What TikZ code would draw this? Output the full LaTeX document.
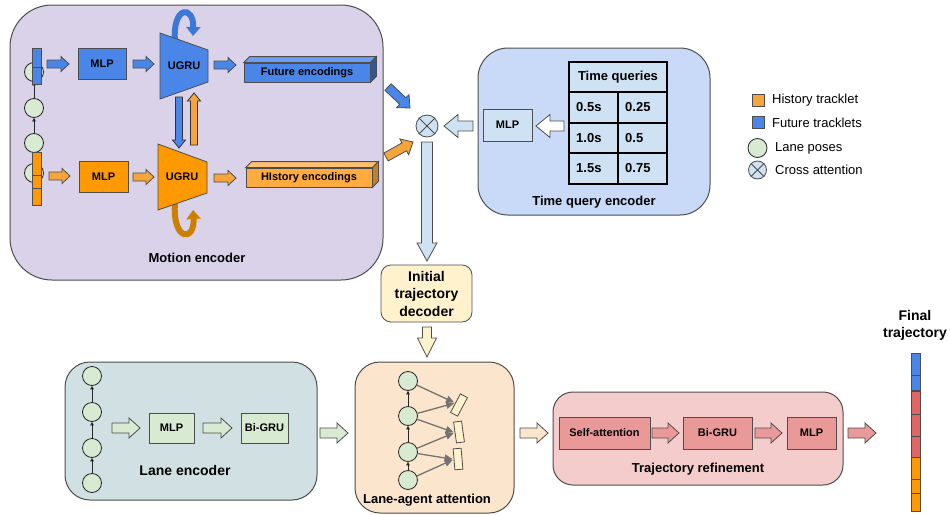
\documentclass[tikz,border=0pt]{standalone}
\usepackage{fontspec}
\setmainfont{Liberation Sans}
\usetikzlibrary{calc,arrows.meta}
\definecolor{meFill}{HTML}{D9D2E9}
\definecolor{tqFill}{HTML}{C9DAF8}
\definecolor{lblue}{HTML}{CFE2F3}
\definecolor{dcFill}{HTML}{FFF2CC}
\definecolor{laFill}{HTML}{FCE5CD}
\definecolor{leFill}{HTML}{D0E0E3}
\definecolor{lgreen}{HTML}{D9EAD3}
\definecolor{trFill}{HTML}{F4CCCC}
\definecolor{trBox}{HTML}{EA9999}
\definecolor{redF}{HTML}{E06666}
\definecolor{blueA}{HTML}{4A86E8}
\definecolor{blueD}{HTML}{3C78D8}
\definecolor{orangeA}{HTML}{FF9900}
\definecolor{orangeL}{HTML}{F6A53C}
\definecolor{orangeE}{HTML}{FFAB40}
\definecolor{orangeD}{HTML}{CC8000}
\definecolor{edge}{HTML}{4D4D4D}
% block arrow: style, start, end, shaft half width, head half width, head length
\newcommand\barrow[6]{%
  \coordinate (baA) at #2;
  \coordinate (baB) at #3;
  \coordinate (baH) at ($(baB)!#6!(baA)$);
  \filldraw[#1] ($(baA)!#4!90:(baB)$) -- ($(baH)!#4!-90:(baA)$) -- ($(baH)!#5!-90:(baA)$) -- (baB) -- ($(baH)!#5!90:(baA)$) -- ($(baH)!#4!90:(baA)$) -- ($(baA)!#4!-90:(baB)$) -- cycle;}
\begin{document}
\begin{tikzpicture}[x=1pt,y=-1pt,
  bigl/.style={font=\fontsize{13}{15}\selectfont\bfseries},
  smll/.style={font=\fontsize{11}{13}\selectfont\bfseries},
  panel/.style={draw=edge,line width=1pt},
  boxn/.style={draw=edge,line width=0.8pt,inner sep=0pt,smll},
  lanec/.style={circle,draw=black!85,fill=lgreen,minimum size=19pt,inner sep=0pt,line width=0.8pt},
  uparr/.style={-{Triangle[length=3.5pt,width=3.5pt]},line width=0.8pt,black!85},
  attarr/.style={-{Triangle[length=8pt,width=7pt]},line width=1.3pt,black!55,shorten >=1pt},
  barr/.style={draw=edge,line width=0.8pt,fill=#1},
  crossc/.style={circle,draw=edge,fill=lblue,minimum size=#1,inner sep=0pt,line width=0.8pt},
  trkcell/.style={draw=edge,line width=0.6pt,fill=#1},
  legt/.style={font=\fontsize{13}{15}\selectfont,anchor=west,inner sep=0pt}]
\useasboundingbox (0,0) rectangle (950,514);

% ---------------- Motion encoder ----------------
\draw[panel,fill=meFill,rounded corners=42pt] (10,5) rectangle (383,280);
\node[bigl] (meLbl) at (197,258) {Motion encoder};
\foreach \n/\y in {1/72,2/108,3/143,4/173} \node[lanec] (mc\n) at (34,\y) {};
\draw[uparr] (mc2) -- (mc1);
\draw[uparr] (mc3) -- (mc2);
\draw[uparr] (mc4) -- (mc3);
\draw[trkcell=blueA] (32,48) rectangle (41,67);
\draw[trkcell=blueA] (32,67) rectangle (41,84);
\draw[trkcell=orangeA] (32,152) rectangle (41,175);
\draw[trkcell=orangeA] (32,175) rectangle (41,188);
\draw[trkcell=orangeA] (32,188) rectangle (41,205);

\node[boxn,fill=blueA,minimum width=48pt,minimum height=31pt] (mlpF) at (102,63.5) {MLP};
\node[boxn,fill=orangeA,minimum width=49pt,minimum height=31pt] (mlpH) at (103.5,177) {MLP};

% recurrent curved arrows
\draw[blueD,line width=6pt,-{Triangle[length=9pt,width=14pt]}] (175,42) .. controls (172,5) and (194,5) .. (193,36);
\draw[orangeD,line width=6pt,-{Triangle[length=9pt,width=14pt]}] (175,202) .. controls (172,242) and (195,242) .. (193,210);

% UGRU trapezoids
\draw[fill=blueA,draw=edge,line width=0.8pt] (160,33) -- (208,50) -- (208,82) -- (160,99) -- cycle;
\node[smll] (ugruF) at (184,66) {UGRU};
\draw[fill=orangeA,draw=edge,line width=0.8pt] (158,144) -- (207,162) -- (207,193) -- (158,210) -- cycle;
\node[smll] (ugruH) at (182,177) {UGRU};

\barrow{barr=blueA}{(47,64)}{(69,64)}{4pt}{7.5pt}{8pt}
\barrow{barr=blueA}{(133,64)}{(154,64)}{4pt}{7.5pt}{8pt}
\barrow{barr=blueA}{(214,65)}{(236,65)}{4pt}{7.5pt}{8pt}
\barrow{barr=orangeL}{(49,176)}{(70,176)}{4pt}{7.5pt}{8pt}
\barrow{barr=orangeL}{(133,177)}{(154,177)}{4pt}{7.5pt}{8pt}
\barrow{barr=orangeL}{(214,178)}{(236,178)}{4pt}{7.5pt}{8pt}
\barrow{barr=blueA,draw=black!80}{(179,97)}{(179,148)}{3.5pt}{6.5pt}{8pt}
\barrow{barr=orangeL,draw=black!80}{(194,145)}{(194,93)}{3.5pt}{6.5pt}{8pt}

% encodings cuboids
\node[boxn,fill=blueA,minimum width=126pt,minimum height=19pt] (futEnc) at (307,72.5) {Future encodings};
\draw[draw=edge,line width=0.8pt,fill=blueA!80!white] (futEnc.north west) -- ++(6,-6) -- ($(futEnc.north east)+(6,-6)$) -- (futEnc.north east) -- cycle;
\draw[draw=edge,line width=0.8pt,fill=blueA!65!black] (futEnc.north east) -- ++(6,-6) -- ($(futEnc.south east)+(6,-6)$) -- (futEnc.south east) -- cycle;
\node[boxn,fill=orangeE,minimum width=126pt,minimum height=19pt] (hisEnc) at (309,177.5) {HIstory encodings};
\draw[draw=edge,line width=0.8pt,fill=orangeE!75!white] (hisEnc.north west) -- ++(6,-6) -- ($(hisEnc.north east)+(6,-6)$) -- (hisEnc.north east) -- cycle;
\draw[draw=edge,line width=0.8pt,fill=orangeE!75!black] (hisEnc.north east) -- ++(6,-6) -- ($(hisEnc.south east)+(6,-6)$) -- (hisEnc.south east) -- cycle;

% ---------------- Cross attention ----------------
\barrow{barr=blueA}{(388,87)}{(410,108)}{4.5pt}{9pt}{10pt}
\barrow{barr=orangeL}{(386,157)}{(413,142)}{4.5pt}{9pt}{10pt}
\node[crossc=22pt] (cross) at (427,126) {};
\draw[edge,line width=0.8pt] (cross.north east) -- (cross.south west) (cross.north west) -- (cross.south east);

% ---------------- Time query encoder ----------------
\draw[panel,fill=tqFill,rounded corners=30pt] (478,48) rectangle (710,215);
\node[bigl] (tqLbl) at (594,202) {Time query encoder};
\draw[line width=1.6pt,fill=lblue] (569,62) rectangle (667,184);
\draw[line width=1.6pt] (569,92) -- (667,92) (569,123) -- (667,123) (569,153) -- (667,153) (618,92) -- (618,184);
\node[bigl] (tqHead) at (618,77) {Time queries};
\node[bigl,anchor=west,inner sep=0pt] (t11) at (576,107.5) {0.5s};
\node[bigl,anchor=west,inner sep=0pt] (t12) at (625,107.5) {0.25};
\node[bigl,anchor=west,inner sep=0pt] (t21) at (576,138) {1.0s};
\node[bigl,anchor=west,inner sep=0pt] (t22) at (625,138) {0.5};
\node[bigl,anchor=west,inner sep=0pt] (t31) at (576,168.5) {1.5s};
\node[bigl,anchor=west,inner sep=0pt] (t32) at (625,168.5) {0.75};
\node[boxn,fill=lblue,minimum width=49pt,minimum height=32pt] (tqMLP) at (507.5,125) {MLP};
\barrow{barr=white}{(564,126)}{(536,126)}{5pt}{11.5pt}{14pt}
\barrow{barr=lblue}{(473,126)}{(444,126)}{5pt}{11.5pt}{14pt}

% down to decoder
\barrow{barr=lblue}{(427,142)}{(427,261)}{5.5pt}{10pt}{18pt}
\node[draw=edge,line width=0.8pt,fill=dcFill,rounded corners=10pt,minimum width=91pt,minimum height=57pt,align=center,font=\fontsize{14}{17.5}\selectfont\bfseries] (dec) at (426.5,293.5) {Initial\\trajectory\\decoder};
\barrow{barr=dcFill}{(427,327)}{(427,357)}{4.5pt}{9.5pt}{19pt}

% ---------------- Legend ----------------
\node[draw=edge,line width=0.6pt,fill=orangeL,minimum size=12pt,inner sep=0pt] (lg1) at (758,100.5) {};
\node[legt] at (772,100) {History tracklet};
\node[draw=edge,line width=0.6pt,fill=blueA,minimum size=12pt,inner sep=0pt] (lg2) at (758,122.5) {};
\node[legt] at (772,123) {Future tracklets};
\node[lanec] (lg3) at (757.5,148) {};
\node[legt] at (775,148) {Lane poses};
\node[crossc=18pt] (lg4) at (757.5,170) {};
\draw[edge,line width=0.8pt] (lg4.north east) -- (lg4.south west) (lg4.north west) -- (lg4.south east);
\node[legt] at (775,170) {Cross attention};

% ---------------- Lane encoder ----------------
\draw[panel,fill=leFill,rounded corners=25pt] (65,362) rectangle (317,500);
\foreach \n/\y in {1/376,2/412,3/448,4/483} \node[lanec] (lc\n) at (92,\y) {};
\draw[uparr] (lc2) -- (lc1);
\draw[uparr] (lc3) -- (lc2);
\draw[uparr] (lc4) -- (lc3);
\node[boxn,fill=lgreen,minimum width=45pt,minimum height=30pt] (leMLP) at (171.5,428) {MLP};
\node[boxn,fill=lgreen,minimum width=47pt,minimum height=30pt] (leBi) at (264.5,428) {Bi-GRU};
\node[font=\fontsize{14}{16}\selectfont\bfseries] (leLbl) at (185,470) {Lane encoder};
\barrow{barr=lgreen}{(112,428)}{(140,428)}{5pt}{10pt}{11pt}
\barrow{barr=lgreen}{(203,428)}{(232,428)}{5pt}{10pt}{11pt}
\barrow{barr=lgreen}{(320,433)}{(348,433)}{5pt}{10pt}{11pt}

% ---------------- Lane-agent attention ----------------
\draw[panel,fill=laFill,rounded corners=25pt] (355,362) rectangle (514,513);
\foreach \n/\y in {1/381,2/416,3/452,4/480} \node[lanec] (la\n) at (408,\y) {};
\draw[uparr] (la2) -- (la1);
\draw[uparr] (la3) -- (la2);
\draw[uparr] (la4) -- (la3);
\node[draw=edge,line width=0.8pt,fill=dcFill,minimum width=8pt,minimum height=21pt,inner sep=0pt,rotate=-28] (ar1) at (459,405) {};
\node[draw=edge,line width=0.8pt,fill=dcFill,minimum width=8pt,minimum height=21pt,inner sep=0pt,rotate=8] (ar2) at (459,432) {};
\node[draw=edge,line width=0.8pt,fill=dcFill,minimum width=8pt,minimum height=21pt,inner sep=0pt,rotate=5] (ar3) at (458,459) {};
\draw[attarr] (la1) -- (ar1.west);
\draw[attarr] (la2) -- (ar1.west);
\draw[attarr] (la2) -- (ar2.west);
\draw[attarr] (la3) -- (ar2.west);
\draw[attarr] (la3) -- (ar3.west);
\draw[attarr] (la4) -- (ar3.west);
\node[bigl] (laLbl) at (427,500) {Lane-agent attention};
\barrow{barr=laFill}{(520,433)}{(548,433)}{5pt}{10pt}{11pt}

% ---------------- Trajectory refinement ----------------
\draw[panel,fill=trFill,rounded corners=20pt] (553,392) rectangle (843,485);
\node[boxn,fill=trBox,minimum width=91pt,minimum height=32pt] (trSA) at (604.5,433) {Self-attention};
\node[boxn,fill=trBox,minimum width=69pt,minimum height=32pt] (trBi) at (717.5,433) {Bi-GRU};
\node[boxn,fill=trBox,minimum width=49pt,minimum height=32pt] (trMLP) at (811.5,433) {MLP};
\node[bigl] (trLbl) at (698,469) {Trajectory refinement};
\barrow{barr=trBox}{(652,433)}{(679,433)}{5pt}{10pt}{11pt}
\barrow{barr=trBox}{(755,433)}{(782,433)}{5pt}{10pt}{11pt}
\barrow{barr=trBox}{(848,433)}{(876,433)}{5pt}{10pt}{11pt}

% ---------------- Final trajectory ----------------
\node[font=\fontsize{14}{16.5}\selectfont\bfseries,align=center] (finLbl) at (915,325.5) {Final\\trajectory};
\draw[trkcell=blueA] (911,353) rectangle (920,375);
\draw[trkcell=blueA] (911,375) rectangle (920,390);
\draw[trkcell=redF] (911,391) rectangle (920,414);
\draw[trkcell=redF] (911,414) rectangle (920,436);
\draw[trkcell=redF] (911,436) rectangle (920,457);
\draw[trkcell=orangeA] (911,457) rectangle (920,479);
\draw[trkcell=orangeA] (911,479) rectangle (920,493);
\draw[trkcell=orangeA] (911,493) rectangle (920,511);
\end{tikzpicture}
\end{document}
